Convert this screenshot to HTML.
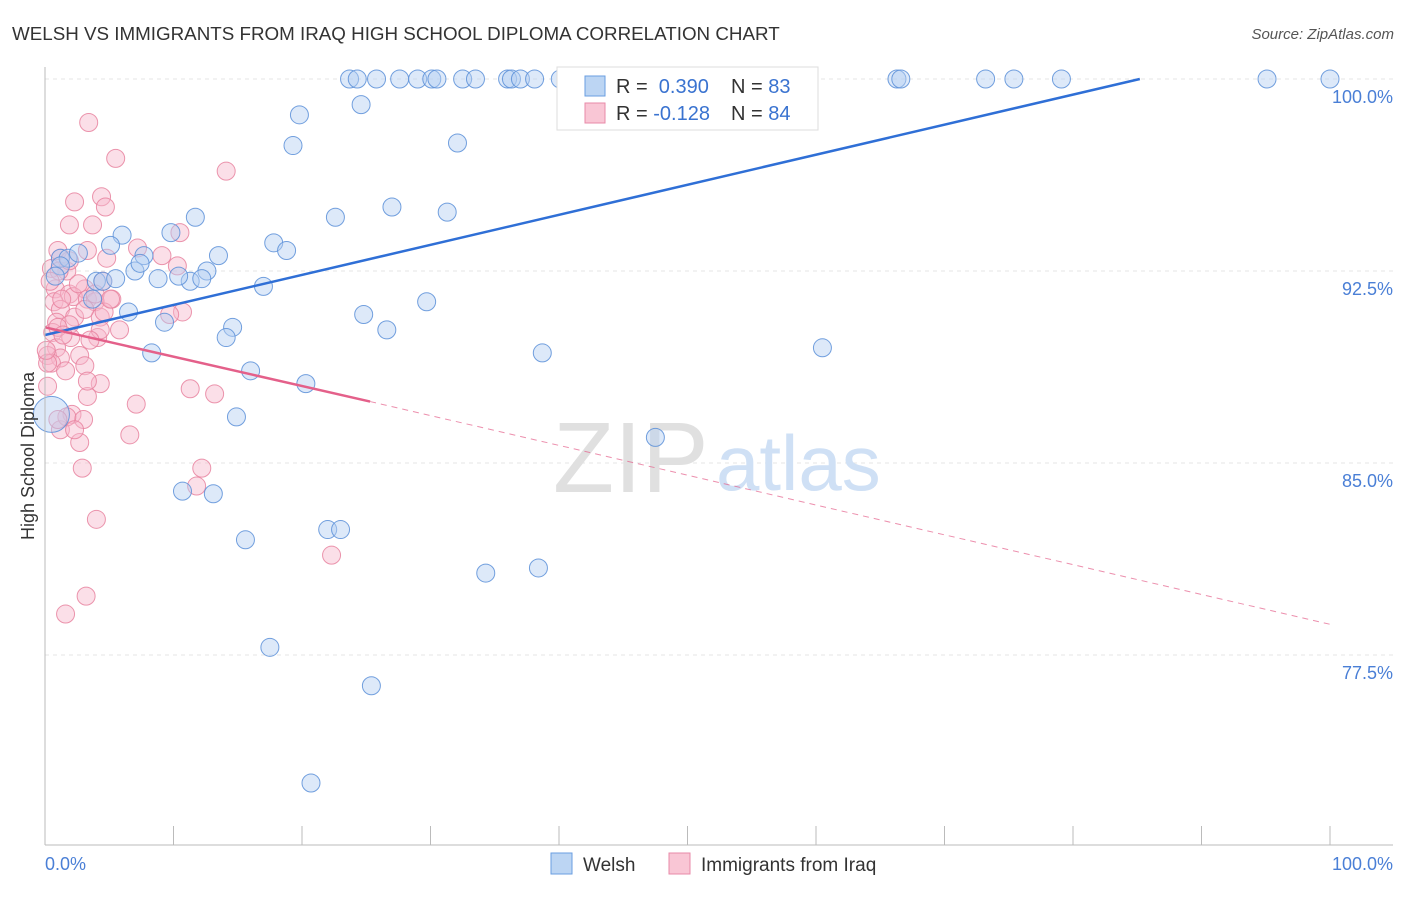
<!DOCTYPE html>
<html><head><meta charset="utf-8"><style>
body{margin:0;background:#fff;font-family:"Liberation Sans",sans-serif;}
svg text{font-family:"Liberation Sans",sans-serif;}
</style></head><body>
<svg id="chart" width="1406" height="892">
<text x="12" y="40" font-size="18.8" fill="#333">WELSH VS IMMIGRANTS FROM IRAQ HIGH SCHOOL DIPLOMA CORRELATION CHART</text>
<text x="1394" y="39" font-size="15" fill="#555" font-style="italic" text-anchor="end">Source: ZipAtlas.com</text>
<g id="grid"></g>
<text x="553" y="492" font-size="100" fill="#e0e0e0" font-family="Liberation Serif">ZIP</text>
<text x="716" y="490" font-size="78" fill="#cfe0f5">atlas</text>
<g id="marks"></g>
<line x1="45" y1="67" x2="45" y2="845" stroke="#bbb"/>
<line x1="45" y1="845" x2="1393" y2="845" stroke="#bbb"/>
<g id="axes"></g>
<text x="34" y="456" font-size="18" fill="#333" transform="rotate(-90 34 456)" text-anchor="middle">High School Diploma</text>
<text x="45" y="870" font-size="18" fill="#4a7fd6">0.0%</text>
<text x="1393" y="870" font-size="18" fill="#4a7fd6" text-anchor="end">100.0%</text>
<g>
<rect x="557" y="67" width="261" height="63" fill="#fff" stroke="#ddd"/>
<rect x="585" y="76" width="20" height="20" fill="#bcd5f3" stroke="#6a9ee0"/>
<rect x="585" y="103" width="20" height="20" fill="#f9c6d5" stroke="#e88aa8"/>
<text x="616" y="93" font-size="20" fill="#333">R = <tspan fill="#3a73d0">&#160;0.390</tspan><tspan x="731">N = </tspan><tspan fill="#3a73d0">83</tspan></text>
<text x="616" y="120" font-size="20" fill="#333">R = <tspan fill="#3a73d0">-0.128</tspan><tspan x="731">N = </tspan><tspan fill="#3a73d0">84</tspan></text>
</g>
<g>
<rect x="551" y="853" width="21" height="21" fill="#bcd5f3" stroke="#6a9ee0"/>
<text x="583" y="871" font-size="19" fill="#333">Welsh</text>
<rect x="669" y="853" width="21" height="21" fill="#f9c6d5" stroke="#e88aa8"/>
<text x="701" y="871" font-size="19" fill="#333">Immigrants from Iraq</text>
</g>
</svg>
<script>
const yTicks=[100,92.5,85,77.5];
const yTickLabels=["100.0%","92.5%","85.0%","77.5%"];
const xTicks=[0,10,20,30,40,50,60,70,80,90,100];
const welshX=[23.7,24.3,25.8,27.6,29.0,30.1,30.5,32.5,33.5,36.0,36.3,37.0,38.1,40.1,41.2,45.7,54.2,66.3,66.6,73.2,75.4,79.1,95.1,100,
19.8,24.6,19.3,32.1,11.7,22.6,27.0,31.3,6.0,9.8,5.1,17.8,18.8,1.2,1.8,2.6,7.7,13.5,7.0,7.4,12.6,4.0,4.5,5.5,8.8,11.3,10.4,12.2,17.0,29.7,6.5,24.8,3.7,9.3,14.6,14.1,26.6,8.3,38.7,60.5,16.0,20.3,0.5,14.9,47.5,10.7,13.1,15.6,22.0,23.0,34.3,38.4,17.5,25.4,20.7,1.2,0.8];
const welshY=[100,100,100,100,100,100,100,100,100,100,100,100,100,100,100,100,100,100,100,100,100,100,100,100,
98.6,99.0,97.4,97.5,94.6,94.6,95.0,94.8,93.9,94.0,93.5,93.6,93.3,93.0,93.0,93.2,93.1,93.1,92.5,92.8,92.5,92.1,92.1,92.2,92.2,92.1,92.3,92.2,91.9,91.3,90.9,90.8,91.4,90.5,90.3,89.9,90.2,89.3,89.3,89.5,88.6,88.1,86.9,86.8,86.0,83.9,83.8,82.0,82.4,82.4,80.7,80.9,77.8,76.3,72.5,92.7,92.3];
const iraqX=[3.4,5.5,14.1,2.3,4.4,4.7,1.9,3.7,10.5,7.2,3.3,1.2,4.8,9.1,10.3,0.5,1.7,1.1,0.8,1.9,3.1,4.5,0.7,2.2,3.3,5.2,3.9,1.2,2.3,4.3,0.9,1.9,3.1,4.6,4.1,0.6,2.0,0.9,0.2,1.2,2.7,0.5,0.2,1.6,3.1,4.3,3.3,0.2,11.3,13.2,7.1,2.1,3.0,6.6,1.2,2.7,1.7,2.3,2.9,12.2,11.8,4.0,22.3,3.2,1.6,1.0,1.3,0.4,2.6,1.0,1.9,10.7,9.7,3.9,5.8,4.3,1.4,3.5,5.1,1.0,0.1,3.3];
const iraqY=[98.3,96.9,96.4,95.2,95.4,95.0,94.3,94.3,94.0,93.4,93.3,93.0,93.0,93.1,92.7,92.6,92.5,92.5,91.8,91.6,91.8,92.1,91.3,91.5,91.4,91.4,91.3,91.0,90.7,90.7,90.5,90.4,91.0,90.9,89.9,90.1,89.9,89.5,89.2,89.1,89.2,88.9,88.9,88.6,88.8,88.1,87.6,88.0,87.9,87.7,87.3,86.9,86.7,86.1,86.3,85.8,86.8,86.3,84.8,84.8,84.1,82.8,81.4,79.8,79.1,90.3,91.4,92.1,92.0,93.3,92.9,90.9,90.8,91.6,90.2,90.2,90.0,89.8,91.4,86.7,89.4,88.2];
const welshTrend=[0,90.0,85.2,100];
const iraqTrend=[0,90.3,25.3,87.4,100,78.7];
const NS="http://www.w3.org/2000/svg";
const X=v=>45+v*12.85, Y=v=>79+(100-v)*25.6;
function mk(t,a,p){const e=document.createElementNS(NS,t);for(const k in a)e.setAttribute(k,a[k]);p.appendChild(e);return e;}
const grid=document.getElementById('grid'),axes=document.getElementById('axes'),marks=document.getElementById('marks');
yTicks.forEach((v,i)=>{
 const l=mk('line',{x1:45,x2:1393,y1:Y(v),y2:Y(v),stroke:'#e4e4e4','stroke-dasharray':'4,4'},grid);
 
 
 const t=mk('text',{x:1393,y:Y(v)+24,'font-size':18,fill:'#4a7fd6','text-anchor':'end'},axes);
 t.textContent=yTickLabels[i];
 
 
});
xTicks.forEach(v=>{
 const l=mk('line',{x1:X(v),x2:X(v),y1:826,y2:845,stroke:'#bbb'},axes);
 
 
});
function pts(xs,ys,fill,stroke,name){
 xs.forEach((x,i)=>{
  const big=(name==='welsh-point'&&x<1&&ys[i]<87.5);
  const c=mk('circle',{cx:X(x),cy:Y(ys[i]),r:big?18:9,fill:fill,'fill-opacity':0.45,stroke:stroke,'stroke-width':1,'stroke-opacity':0.85},marks);
  
  
 });
}
pts(iraqX,iraqY,'#f7b8cb','#e8829f','iraq-point');
pts(welshX,welshY,'#b3cff2','#5b8fd8','welsh-point');
const wl=mk('line',{x1:X(welshTrend[0]),y1:Y(welshTrend[1]),x2:X(welshTrend[2]),y2:Y(welshTrend[3]),stroke:'#2f6fd6','stroke-width':2.5},marks);


const il=mk('line',{x1:X(iraqTrend[0]),y1:Y(iraqTrend[1]),x2:X(iraqTrend[2]),y2:Y(iraqTrend[3]),stroke:'#e4608a','stroke-width':2.5},marks);


const id=mk('line',{x1:X(iraqTrend[2]),y1:Y(iraqTrend[3]),x2:X(iraqTrend[4]),y2:Y(iraqTrend[5]),stroke:'#e4608a','stroke-width':1,'stroke-dasharray':'6,5','stroke-opacity':0.7},marks);


</script>
</body></html>
